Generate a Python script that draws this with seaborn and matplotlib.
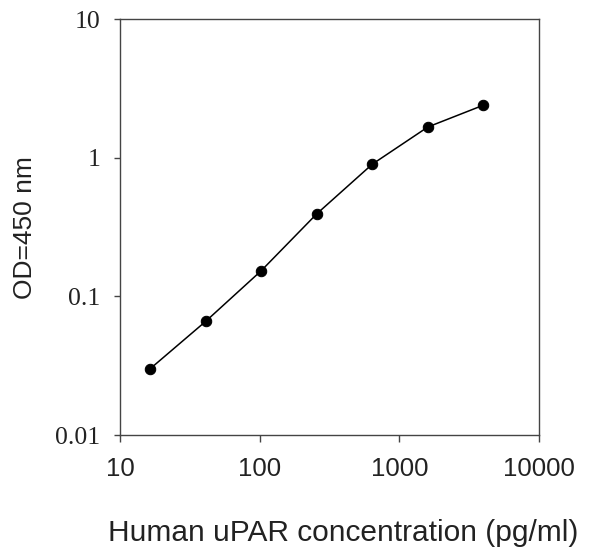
import pandas as pd
import matplotlib
matplotlib.use("Agg")
import matplotlib.pyplot as plt
import seaborn as sns
from matplotlib.ticker import NullLocator

# standard curve values
conc = [16.4, 41, 102.4, 256, 640, 1600, 4000]
od = [0.030, 0.066, 0.153, 0.394, 0.90, 1.67, 2.40]

x_ticks = [10, 100, 1000, 10000]
x_labels = ["10", "100", "1000", "10000"]
y_ticks = [0.01, 0.1, 1, 10]
y_labels = ["0.01", "0.1", "1", "10"]

df = pd.DataFrame({"conc": conc, "od": od})

sns.set_style("ticks")
plt.rcParams["font.family"] = ["Liberation Sans", "DejaVu Sans"]

fig = plt.figure(figsize=(5.92, 5.50), dpi=100)
ax = fig.add_axes([120 / 592, 1 - 435 / 550, (539 - 120) / 592, (435 - 19.3) / 550])

sns.lineplot(data=df, x="conc", y="od", ax=ax, color="black", linewidth=1.1,
             marker="o", markersize=7.5, markeredgecolor="black", markerfacecolor="black")

ax.set_xscale("log")
ax.set_yscale("log")
ax.set_xlim(10, 10000)
ax.set_ylim(0.01, 10)

ax.set_xticks(x_ticks, x_labels)
ax.set_yticks(y_ticks, y_labels)
ax.xaxis.set_minor_locator(NullLocator())
ax.yaxis.set_minor_locator(NullLocator())

for sp in ax.spines.values():
    sp.set_visible(True)
    sp.set_color("#444444")
    sp.set_linewidth(1.0)

ax.tick_params(axis="x", direction="out", length=5, width=1, color="#444444", pad=11,
               labelsize=18.5, labelcolor="#222222")
ax.tick_params(axis="y", direction="out", length=4.5, width=1, color="#444444", pad=9.5,
               labelsize=18.5, labelcolor="#222222", labelfontfamily="Liberation Serif")

ax.set_xlabel("Human uPAR concentration (pg/ml)", fontsize=21.5, color="#222222", labelpad=27)
ax.xaxis.label.set_x(0.532)
ax.set_ylabel("OD=450 nm", fontsize=19, color="#222222", labelpad=13)

fig.savefig("out.png", dpi=100)
